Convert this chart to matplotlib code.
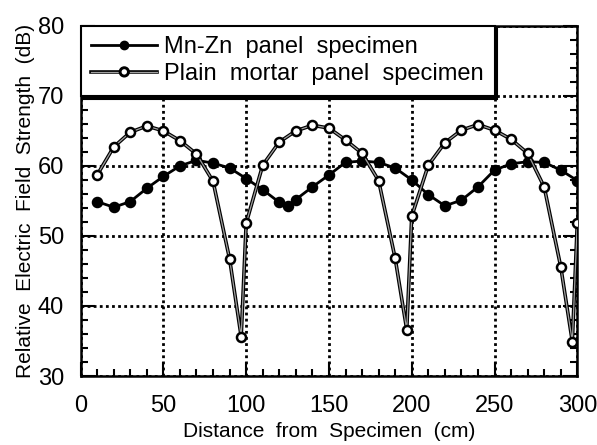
import numpy as np
import matplotlib
matplotlib.use("Agg")
from matplotlib import pyplot as plt
import matplotlib.patheffects as pe
from matplotlib.lines import Line2D
from matplotlib.ticker import MultipleLocator

plt.rcParams['font.family'] = ['Liberation Sans', 'DejaVu Sans']

# Mn-Zn panel specimen (filled circles)
mnzn_x = [10, 20, 30, 40, 50, 60, 70, 80, 90, 100,
          110, 120, 125, 130, 140, 150, 160, 170, 180, 190, 200,
          210, 220, 230, 240, 250, 260, 270, 280, 290, 300]
mnzn_y = [54.9, 54.1, 54.9, 56.8, 58.5, 60.0, 60.8, 60.4, 59.7, 58.2,
          56.6, 54.8, 54.3, 55.2, 57.0, 58.7, 60.5, 60.7, 60.5, 59.7, 58.0,
          55.9, 54.3, 55.1, 57.0, 59.4, 60.3, 60.6, 60.5, 59.4, 57.9]

# Plain mortar panel specimen (open circles)
plain_x = [10, 20, 30, 40, 50, 60, 70, 80, 90, 97, 100,
           110, 120, 130, 140, 150, 160, 170, 180, 190, 197, 200,
           210, 220, 230, 240, 250, 260, 270, 280, 290, 297, 300]
plain_y = [58.7, 62.7, 64.8, 65.7, 65.0, 63.6, 61.7, 57.8, 46.7, 35.6, 51.8,
           60.1, 63.4, 65.0, 65.8, 65.4, 63.7, 61.8, 57.9, 46.8, 36.6, 52.8,
           60.1, 63.3, 65.1, 65.9, 65.1, 63.8, 61.8, 57.0, 45.6, 34.9, 51.9]

labels = ['Mn-Zn  panel  specimen', 'Plain  mortar  panel  specimen']

fig = plt.figure(figsize=(5.97, 4.45), dpi=100)
ax = fig.add_axes([0.135, 0.155, 0.832, 0.787])

outline = [pe.Stroke(linewidth=2.6, foreground='black'), pe.Normal()]

ax.plot(mnzn_x, mnzn_y, color='black', lw=2.0, marker='o', ms=7.3,
        mfc='black', mec='black', zorder=3)
ax.plot(plain_x, plain_y, color='#a0a0a0', lw=0.9, zorder=4,
        path_effects=outline)
ax.plot(plain_x, plain_y, ls='none', marker='o', ms=6.5,
        mfc='white', mec='black', mew=1.8, zorder=5)

ax.set_xlim(0, 300)
ax.set_ylim(30, 80)
ax.xaxis.set_major_locator(MultipleLocator(50))
ax.xaxis.set_minor_locator(MultipleLocator(10))
ax.yaxis.set_major_locator(MultipleLocator(10))
ax.yaxis.set_minor_locator(MultipleLocator(2))
ax.tick_params(which='both', direction='in', right=True, width=1.5,
               labelsize=17)
ax.tick_params(axis='x', which='major', pad=14)
ax.tick_params(axis='y', which='major', pad=12)
ax.tick_params(which='major', length=10)
ax.tick_params(which='minor', length=5)
ax.grid(True, which='major', color='black', linestyle=(0, (1, 1.2)), lw=2.0)
for s in ax.spines.values():
    s.set_linewidth(1.8)

ax.set_xlabel('Distance  from  Specimen  (cm)', fontsize=15, labelpad=3)
ax.set_ylabel('Relative  Electric  Field  Strength  (dB)', fontsize=15,
              labelpad=2)

h1 = Line2D([], [], color='black', lw=2.0, marker='o', ms=6,
            mfc='black', mec='black')
h2 = Line2D([], [], color='#a0a0a0', lw=0.9, marker='o', ms=5.5,
            mfc='white', mec='black', mew=1.6, path_effects=outline)
leg = ax.legend([h1, h2], labels, loc='upper left', bbox_to_anchor=(0, 1),
                borderaxespad=0, fontsize=17, handlelength=2.8,
                handletextpad=0.3, labelspacing=0.2, borderpad=0.45,
                fancybox=False, shadow={'color': 'black', 'alpha': 1})
leg.get_frame().set_edgecolor('black')
leg.get_frame().set_linewidth(1.5)
leg.get_frame().set_alpha(1)
leg.set_zorder(10)

fig.savefig('out.png', dpi=100)
